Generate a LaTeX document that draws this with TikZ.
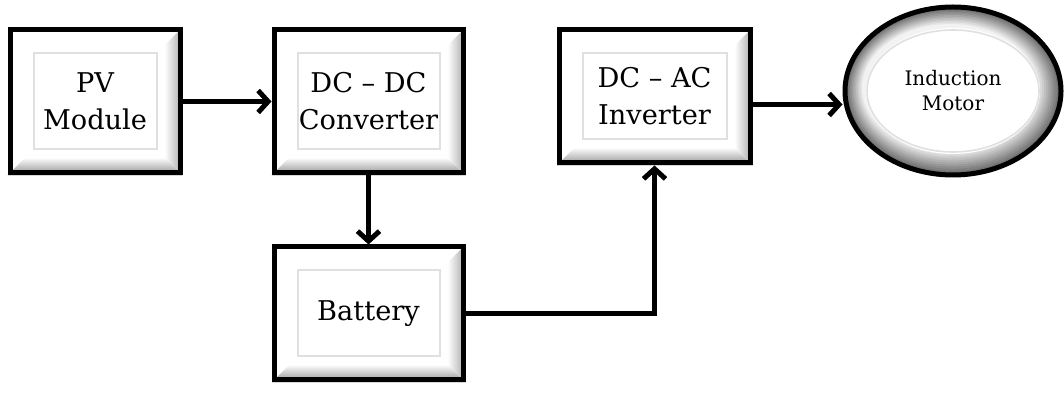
\documentclass[tikz,border=0pt]{standalone}
\usepackage{fontspec}
\setmainfont{DejaVu Serif}
\usetikzlibrary{arrows.meta, backgrounds, shapes.geometric}
\tikzset{
    blocco/.style={draw=black, rectangle, line width=2.5pt, align=center, font=\fontsize{13.6}{18.5}\selectfont},
    motore/.style={draw=black, ellipse, line width=2.5pt, inner sep=0pt, align=center, minimum width=108pt, minimum height=84pt, font=\fontsize{10}{12.5}\selectfont},
    freccia/.style={-{Straight Barb[length=5pt,width=11pt]}, line width=2.5pt, draw=black},
    cornice/.style={draw=black!12, line width=1pt}
}

\begin{document}
\begin{tikzpicture}[x=0.5pt, y=-0.5pt]

        \useasboundingbox (0,0) rectangle (1064,394);

        % -----------------------------------------------------------------
        % BLOCCHI
        % -----------------------------------------------------------------
        \node (pv) [blocco, minimum width=85pt, minimum height=71.5pt] at (95,101.5) {PV\\Module};
        \node (dcdc) [blocco, minimum width=94.5pt, minimum height=71.5pt] at (368.5,101.5) {DC – DC\\Converter};
        \node (bat) [blocco, minimum width=94.5pt, minimum height=66.5pt] at (368.5,313.5) {Battery};
        \node (inv) [blocco, minimum width=95.5pt, minimum height=66.5pt] at (654.5,96.5) {DC – AC\\Inverter};

        % Motore
        \node (motor) [motore] at (953,91) {Induction\\Motor};

        % -----------------------------------------------------------------
        % EFFETTO RILIEVO
        % -----------------------------------------------------------------
        \begin{scope}[on background layer]
            \foreach \n in {pv,dcdc,bat,inv} {
                \shade[top color=white, bottom color=black!45] (\n.south west) -- (\n.south east) -- ([shift={(-9pt,9pt)}]\n.south east) -- ([shift={(9pt,9pt)}]\n.south west) -- cycle;
                \shade[left color=white, right color=black!35] (\n.south east) -- (\n.north east) -- ([shift={(-9pt,-9pt)}]\n.north east) -- ([shift={(-9pt,9pt)}]\n.south east) -- cycle;
                \draw[cornice] ([shift={(13pt,-13pt)}]\n.north west) rectangle ([shift={(-13pt,13pt)}]\n.south east);
            }
            % anello sfumato del motore
            \foreach \k in {0,...,10} {
                \fill[black!\the\numexpr 55-5*\k\relax] ([shift={(-0.15*\k pt,0.15*\k pt)}]motor.center) ellipse [x radius=53pt-0.9*\k pt, y radius=41pt-0.9*\k pt];
            }
            \fill[white] (motor.center) ellipse [x radius=43.5pt, y radius=31.5pt];
            \draw[cornice, line width=0.8pt] (motor.center) ellipse [x radius=43pt, y radius=30.5pt];
        \end{scope}

        % -----------------------------------------------------------------
        % COLLEGAMENTI
        % -----------------------------------------------------------------
        \draw[freccia] (pv.east) -- (dcdc.west);
        \draw[freccia] (dcdc.south) -- (bat.north);
        \draw[freccia] (bat.east) -| (inv.south);
        \draw[freccia] ([yshift=-4pt]inv.east) -- ([yshift=-4pt]inv.east -| motor.west);

\end{tikzpicture}
\end{document}
